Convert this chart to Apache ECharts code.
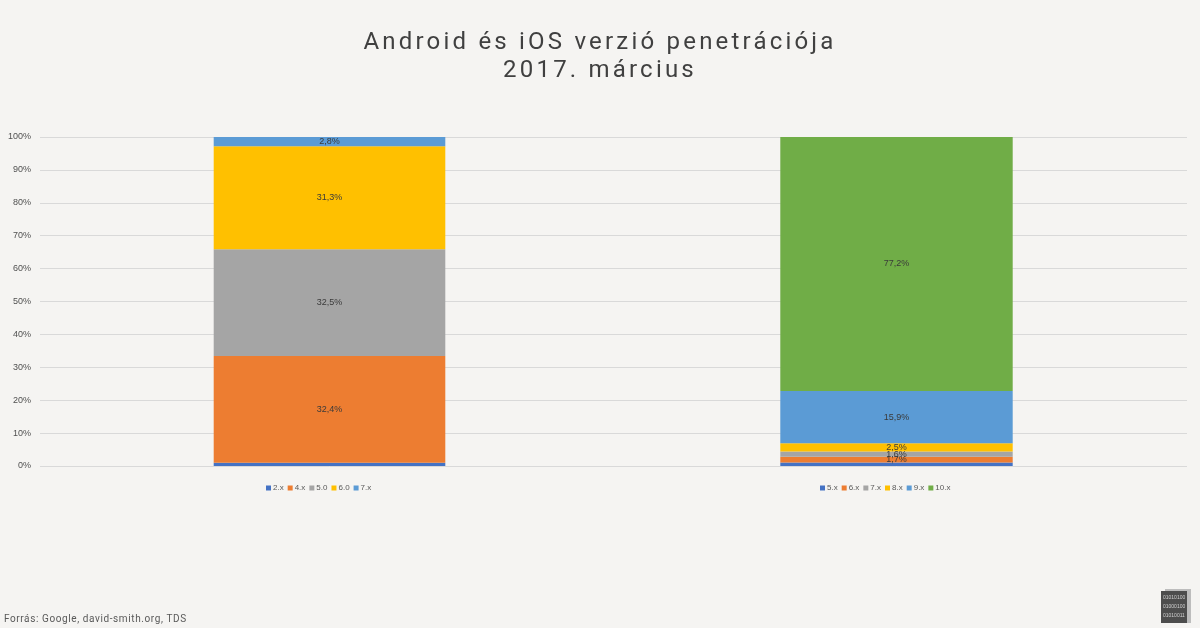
<!DOCTYPE html>
<html>
<head>
<meta charset="utf-8">
<script src="https://cdn.jsdelivr.net/npm/echarts@6/dist/echarts.min.js"></script>
<style>
html,body{margin:0;padding:0;background:#f5f4f2;}
#chart{width:1200px;height:628px;}
</style>
</head>
<body>
<div id="chart"></div>
<script>
// ---- data ----
const titleLines = ['Android és iOS verzió penetrációja', '2017. március'];
const sourceText = 'Forrás: Google, david-smith.org, TDS';
const yTicks = [0, 10, 20, 30, 40, 50, 60, 70, 80, 90, 100];

const androidNames = ['2.x', '4.x', '5.0', '6.0', '7.x'];
const androidValues = [1.0, 32.4, 32.5, 31.3, 2.8];
const androidShowLabel = [false, true, true, true, true];

const iosNames = ['5.x', '6.x', '7.x', '8.x', '9.x', '10.x'];
const iosValues = [1.1, 1.7, 1.6, 2.5, 15.9, 77.2];
const iosShowLabel = [false, true, true, true, true, true];

const androidColors = ['#4472c4', '#ed7d31', '#a5a5a5', '#ffc000', '#5b9bd5'];
const iosColors = ['#4472c4', '#ed7d31', '#a5a5a5', '#ffc000', '#5b9bd5', '#70ad47'];

// letter spacing for the spaced-out title and source line (canvas letterSpacing)
(function () {
  const proto = CanvasRenderingContext2D.prototype;
  const orig = proto.fillText;
  proto.fillText = function (t, x, y, m) {
    if ('letterSpacing' in this) {
      const f = this.font || '';
      let ls = '0px';
      if (/\b24px\b/.test(f)) ls = '3.2px';
      else if (/\b10px\b/.test(f) && /Roboto/.test(f)) ls = '0.6px';
      this.letterSpacing = ls;
    }
    return m === undefined ? orig.call(this, t, x, y) : orig.call(this, t, x, y, m);
  };
})();

// ---- chart ----
const chart = echarts.init(document.getElementById('chart'));
const fmt = p => String(p.value).replace('.', ',') + '%';

function makeSeries(names, values, show, colors, idx, stack) {
  return names.map((n, i) => ({
    name: n,
    type: 'bar',
    stack: stack,
    xAxisIndex: idx,
    yAxisIndex: idx,
    barWidth: '40%',
    data: [values[i]],
    itemStyle: { color: colors[i] },
    label: {
      show: show[i],
      position: 'inside',
      formatter: fmt,
      color: '#3a3a3a',
      fontFamily: 'Liberation Sans',
      fontSize: 9
    },
    emphasis: { disabled: true },
    animation: false
  }));
}

const axisLabelStyle = { fontFamily: 'Liberation Sans', fontSize: 9, color: '#505050' };
const legendText = { fontFamily: 'Liberation Sans', fontSize: 8, color: '#595959', padding: [0, 0, 0, -3] };
const legendData = (names, colors) => names.map((n, i) => ({ name: n, itemStyle: { color: colors[i] } }));

const option = {
  backgroundColor: '#f5f4f2',
  animation: false,
  title: {
    text: titleLines.join('\n'),
    left: 'center',
    top: 24,
    textStyle: {
      fontFamily: 'Roboto',
      fontWeight: 'normal',
      fontSize: 24,
      lineHeight: 28,
      color: '#404040'
    }
  },
  legend: [
    {
      data: legendData(androidNames, androidColors),
      left: 266, top: 484, padding: 0,
      itemWidth: 5, itemHeight: 5, itemGap: 4,
      icon: 'rect',
      textStyle: legendText,
      selectedMode: false
    },
    {
      data: legendData(iosNames, iosColors),
      left: 820, top: 484, padding: 0,
      itemWidth: 5, itemHeight: 5, itemGap: 4,
      icon: 'rect',
      textStyle: legendText,
      selectedMode: false
    }
  ],
  grid: [
    { left: 40, right: 581, top: 137, bottom: 162 },
    { left: 606, right: 13, top: 137, bottom: 162 }
  ],
  xAxis: [
    { type: 'category', gridIndex: 0, data: ['Android'], axisLine: { show: false }, axisTick: { show: false }, axisLabel: { show: false } },
    { type: 'category', gridIndex: 1, data: ['iOS'], axisLine: { show: false }, axisTick: { show: false }, axisLabel: { show: false } }
  ],
  yAxis: [
    {
      type: 'value', gridIndex: 0, min: yTicks[0], max: yTicks[yTicks.length - 1], interval: 10,
      axisLine: { show: false }, axisTick: { show: false },
      axisLabel: Object.assign({ formatter: '{value}%', margin: 9 }, axisLabelStyle),
      splitLine: { lineStyle: { color: '#d9d9d9', width: 1 } }
    },
    {
      type: 'value', gridIndex: 1, min: yTicks[0], max: yTicks[yTicks.length - 1], interval: 10,
      axisLine: { show: false }, axisTick: { show: false },
      axisLabel: { show: false },
      splitLine: { lineStyle: { color: '#d9d9d9', width: 1 } }
    }
  ],
  series: [].concat(
    makeSeries(androidNames, androidValues, androidShowLabel, androidColors, 0, 'android'),
    makeSeries(iosNames, iosValues, iosShowLabel, iosColors, 1, 'ios')
  ),
  graphic: [
    {
      type: 'text', left: 4, top: 614,
      style: { text: sourceText, font: '10px Roboto', fill: '#595959' }
    },
    {
      type: 'group', left: 1161, top: 589,
      children: [
        { type: 'rect', shape: { x: 4, y: 0, width: 26, height: 34 }, style: { fill: '#bdbdbd' } },
        { type: 'rect', shape: { x: 0, y: 2, width: 26, height: 32 }, style: { fill: '#4d4d4d' } },
        { type: 'text', style: { x: 2, y: 4, text: '01010100\n01000100\n01010011', font: '5px Liberation Sans', fill: '#d0d0d0', lineHeight: 9 } }
      ]
    }
  ]
};
chart.setOption(option);
</script>
</body>
</html>
